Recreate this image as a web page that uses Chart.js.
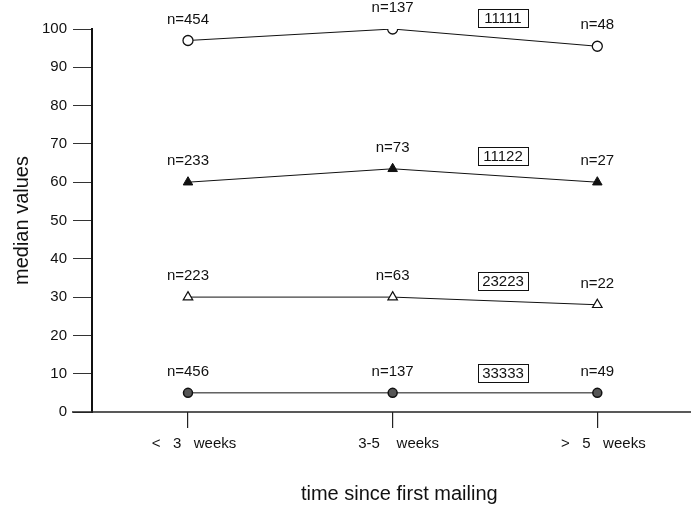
<!DOCTYPE html>
<html>
<head>
<meta charset="utf-8">
<script src="https://cdn.jsdelivr.net/npm/chart.js@4.4.1/dist/chart.umd.min.js"></script>
<style>
  html, body { margin: 0; padding: 0; background: #fff; }
  #wrap { width: 691px; height: 506px; }
</style>
</head>
<body>
<div id="wrap"><canvas id="myChart"></canvas></div>
<script>
// data
const periods = ['<   3   weeks', '3-5    weeks', '>   5   weeks'];
const patterns = ['11111', '11122', '23223', '33333'];

const median11111 = [97, 100, 95.5];
const median11122 = [60, 63.5, 60];
const median23223 = [30, 30, 28];
const median33333 = [5, 5, 5];

const count11111 = ['n=454', 'n=137', 'n=48'];
const count11122 = ['n=233', 'n=73', 'n=27'];
const count23223 = ['n=223', 'n=63', 'n=22'];
const count33333 = ['n=456', 'n=137', 'n=49'];

const yTicks = [0, 10, 20, 30, 40, 50, 60, 70, 80, 90, 100];

const FONT = '"Liberation Sans", Arial, Helvetica, sans-serif';
const counts = [count11111, count11122, count23223, count33333];

const toPoints = arr => arr.map((v, i) => ({ x: i, y: v }));

// n= labels above each point, pattern boxes and the zero line across the whole width
const annotate = {
  id: 'annotate',
  afterDatasetsDraw(chart) {
    const { ctx, scales: { x, y } } = chart;
    ctx.save();
    const y0 = y.getPixelForValue(0);
    ctx.strokeStyle = '#222';
    ctx.lineWidth = 1.5;
    ctx.beginPath();
    ctx.moveTo(x.left - 20, y0);
    ctx.lineTo(chart.width, y0);
    ctx.stroke();

    ctx.fillStyle = '#111';
    ctx.textAlign = 'center';
    ctx.textBaseline = 'middle';
    ctx.font = '15px ' + FONT;
    chart.data.datasets.forEach((ds, i) => {
      const pts = chart.getDatasetMeta(i).data;
      pts.forEach((p, j) => ctx.fillText(counts[i][j], p.x, p.y - 21));

      // boxed pattern label between 2nd and 3rd point
      const a = pts[1], b = pts[2];
      const bx = (a.x + b.x) / 2 + 8;
      const ly = a.y + (bx - a.x) / (b.x - a.x) * (b.y - a.y);
      const by = ly - 20;
      ctx.fillText(patterns[i], bx, by + 1);
      ctx.lineWidth = 1;
      ctx.strokeStyle = '#111';
      ctx.strokeRect(Math.round(bx - 25) + 0.5, Math.round(by - 9) + 0.5, 50, 18);
    });
    ctx.restore();
  }
};

const ctx = document.getElementById('myChart').getContext('2d');

const myChart = new Chart(ctx, {
  type: 'line',
  data: {
    datasets: [
      { label: patterns[0], data: toPoints(median11111), pointStyle: 'circle', pointRadius: 5,
        pointBackgroundColor: '#fff', pointBorderColor: '#111', pointBorderWidth: 1.3 },
      { label: patterns[1], data: toPoints(median11122), pointStyle: 'triangle', pointRadius: 5.5,
        pointBackgroundColor: '#111', pointBorderColor: '#111', pointBorderWidth: 1 },
      { label: patterns[2], data: toPoints(median23223), pointStyle: 'triangle', pointRadius: 5.5,
        pointBackgroundColor: '#fff', pointBorderColor: '#111', pointBorderWidth: 1.2 },
      { label: patterns[3], data: toPoints(median33333), pointStyle: 'circle', pointRadius: 4.5,
        pointBackgroundColor: '#555', pointBorderColor: '#111', pointBorderWidth: 1.5 }
    ]
  },
  options: {
    responsive: true,
    maintainAspectRatio: false,
    animation: false,
    layout: { padding: { top: 29, right: 0, bottom: 0, left: 0 } },
    elements: {
      line: { borderColor: '#111', borderWidth: 1, tension: 0, fill: false }
    },
    plugins: {
      legend: { display: false },
      tooltip: { enabled: false }
    },
    scales: {
      x: {
        type: 'linear',
        min: -0.469,
        max: 2.425,
        afterBuildTicks: s => { s.ticks = periods.map((p, i) => ({ value: i })); },
        afterFit: s => { s.height = 94; },
        border: { display: false },
        grid: { drawOnChartArea: false, drawTicks: true, tickLength: 16, tickColor: '#222', lineWidth: 1.2 },
        ticks: {
          color: '#111',
          padding: 7,
          labelOffset: 6,
          maxRotation: 0,
          font: { family: FONT, size: 15 },
          callback: v => periods[v]
        },
        title: {
          display: true,
          text: '    time since first mailing',
          color: '#111',
          font: { family: FONT, size: 20 },
          padding: { top: 0, bottom: 0 }
        }
      },
      y: {
        min: 0,
        max: 100,
        afterBuildTicks: s => { s.ticks = yTicks.map(v => ({ value: v })); },
        afterFit: s => { s.width = 92; },
        border: { display: true, color: '#111', width: 2 },
        grid: { drawOnChartArea: false, drawTicks: true, tickLength: 19, tickColor: '#333', lineWidth: 1 },
        ticks: {
          color: '#111',
          padding: 6,
          font: { family: FONT, size: 15 }
        },
        title: {
          display: true,
          text: 'median values',
          color: '#111',
          font: { family: FONT, size: 20 },
          padding: { top: 10, bottom: 0 }
        }
      }
    }
  },
  plugins: [annotate]
});
</script>
</body>
</html>
